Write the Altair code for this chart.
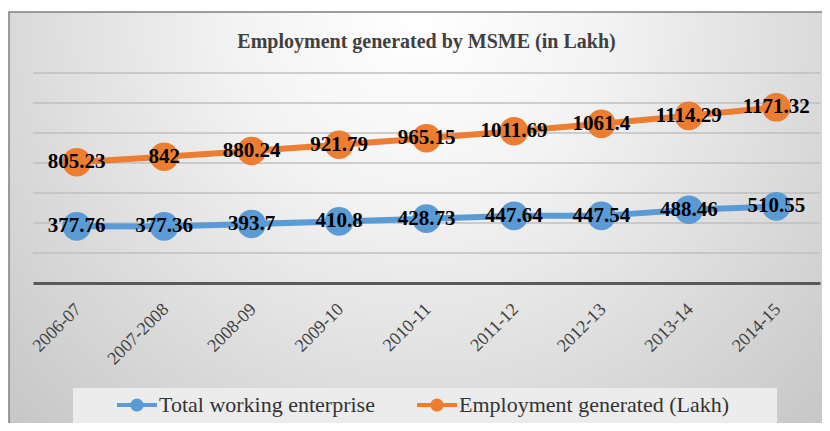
import altair as alt
import pandas as pd

years = ["2006-07", "2007-2008", "2008-09", "2009-10", "2010-11",
         "2011-12", "2012-13", "2013-14", "2014-15"]
enterprise = [377.76, 377.36, 393.7, 410.8, 428.73, 447.64, 447.54, 488.46, 510.55]
employment = [805.23, 842, 880.24, 921.79, 965.15, 1011.69, 1061.4, 1114.29, 1171.32]
series_names = ["Total working enterprise", "Employment generated (Lakh)"]
series_colors = ["#5B9BD5", "#ED7D31"]
y_ticks = [0, 200, 400, 600, 800, 1000, 1200, 1400]
title_text = "Employment generated by MSME (in Lakh)"

rows = []
for name, vals in zip(series_names, [enterprise, employment]):
    for yr, v in zip(years, vals):
        rows.append({"year": yr, "series": name, "line_series": name, "value": v})
df = pd.DataFrame(rows)

FONT = "Liberation Serif"

x_enc = alt.X("year:O", sort=years,
              scale=alt.Scale(type="point", padding=0.5),
              axis=alt.Axis(title=None, labelAngle=-45, labelFont=FONT,
                            labelFontSize=18, labelColor="#404040",
                            ticks=False, domainColor="#595959", domainWidth=3,
                            labelPadding=17, labelOffset=-5, grid=False, zindex=1))
y_scale = alt.Scale(domain=[0, 1400])
y_enc = alt.Y("value:Q", scale=y_scale, axis=None)

SYMBOL = ("M-1,-0.1L-0.3,-0.1L-0.3,0.1L-1,0.1Z "
          "M0.3,-0.1L1,-0.1L1,0.1L0.3,0.1Z "
          "M0.33,0A0.33,0.33,0,1,1,-0.33,0A0.33,0.33,0,1,1,0.33,0Z")

legend = alt.Legend(title=None, orient="none", legendX=84, legendY=312,
                    direction="horizontal", symbolType=SYMBOL,
                    symbolSize=1600, symbolStrokeWidth=0,
                    labelFont=FONT, labelFontSize=22, labelColor="#333333",
                    labelLimit=0, columnPadding=42, labelOffset=2, zindex=2)

gradient = alt.RadialGradient(
    gradient="radial",
    stops=[alt.GradientStop(offset=0, color="#ffffff"),
           alt.GradientStop(offset=0.3, color="#f3f3f3"),
           alt.GradientStop(offset=1, color="#c2c2c2")],
    x1=0.5, y1=0.25, r1=0, x2=0.5, y2=0.25, r2=0.75)

one = pd.DataFrame({"k": [0]})

bg = alt.Chart(one).mark_rect(clip=False, fill=gradient, stroke="#7f7f7f",
                              strokeWidth=1.5).encode(
    x=alt.value(-24), x2=alt.value(795), y=alt.value(-61), y2=alt.value(360))

legend_box = alt.Chart(one).mark_rect(clip=False, fill="#ececec").encode(
    x=alt.value(40), x2=alt.value(744), y=alt.value(315), y2=alt.value(350))

grid = alt.Chart(pd.DataFrame({"tick": y_ticks})).mark_rule(
    color="#bfbfbf", strokeWidth=1.5).encode(
    y=alt.Y("tick:Q", scale=y_scale, axis=None))

base = alt.Chart(df)
lines = base.mark_line(strokeWidth=6).encode(
    x=x_enc, y=y_enc,
    stroke=alt.Stroke("line_series:N",
                      scale=alt.Scale(domain=series_names[::-1],
                                      range=series_colors[::-1]),
                      legend=None),
    detail="line_series:N")
points = base.mark_point(filled=True, size=820, opacity=1, strokeWidth=0).encode(
    x=x_enc, y=y_enc,
    color=alt.Color("series:N", scale=alt.Scale(domain=series_names, range=series_colors),
                    sort=series_names, legend=legend))
labels = base.mark_text(font=FONT, fontWeight="bold", fontSize=21, color="black",
                        baseline="middle", align="center").encode(
    x=x_enc, y=y_enc, text=alt.Text("value:Q", format=".2~f"))

chart = alt.layer(bg, legend_box, grid, lines, points, labels).properties(
    width=787, height=210,
    autosize=alt.AutoSizeParams(type="none"),
    padding={"left": 25, "top": 65, "right": 2, "bottom": 140},
    background="white",
    title=alt.TitleParams(text=title_text, font=FONT, fontSize=20,
                          fontWeight="bold", color="#404040", anchor="middle",
                          frame="group", offset=0, dy=57, baseline="alphabetic",
                          zindex=2),
).configure(font=FONT).configure_view(stroke=None).configure_legend(
    labelFont=FONT).configure_axis(labelFont=FONT)

chart.save("out.html", embed_options={"renderer": "svg", "actions": False})
